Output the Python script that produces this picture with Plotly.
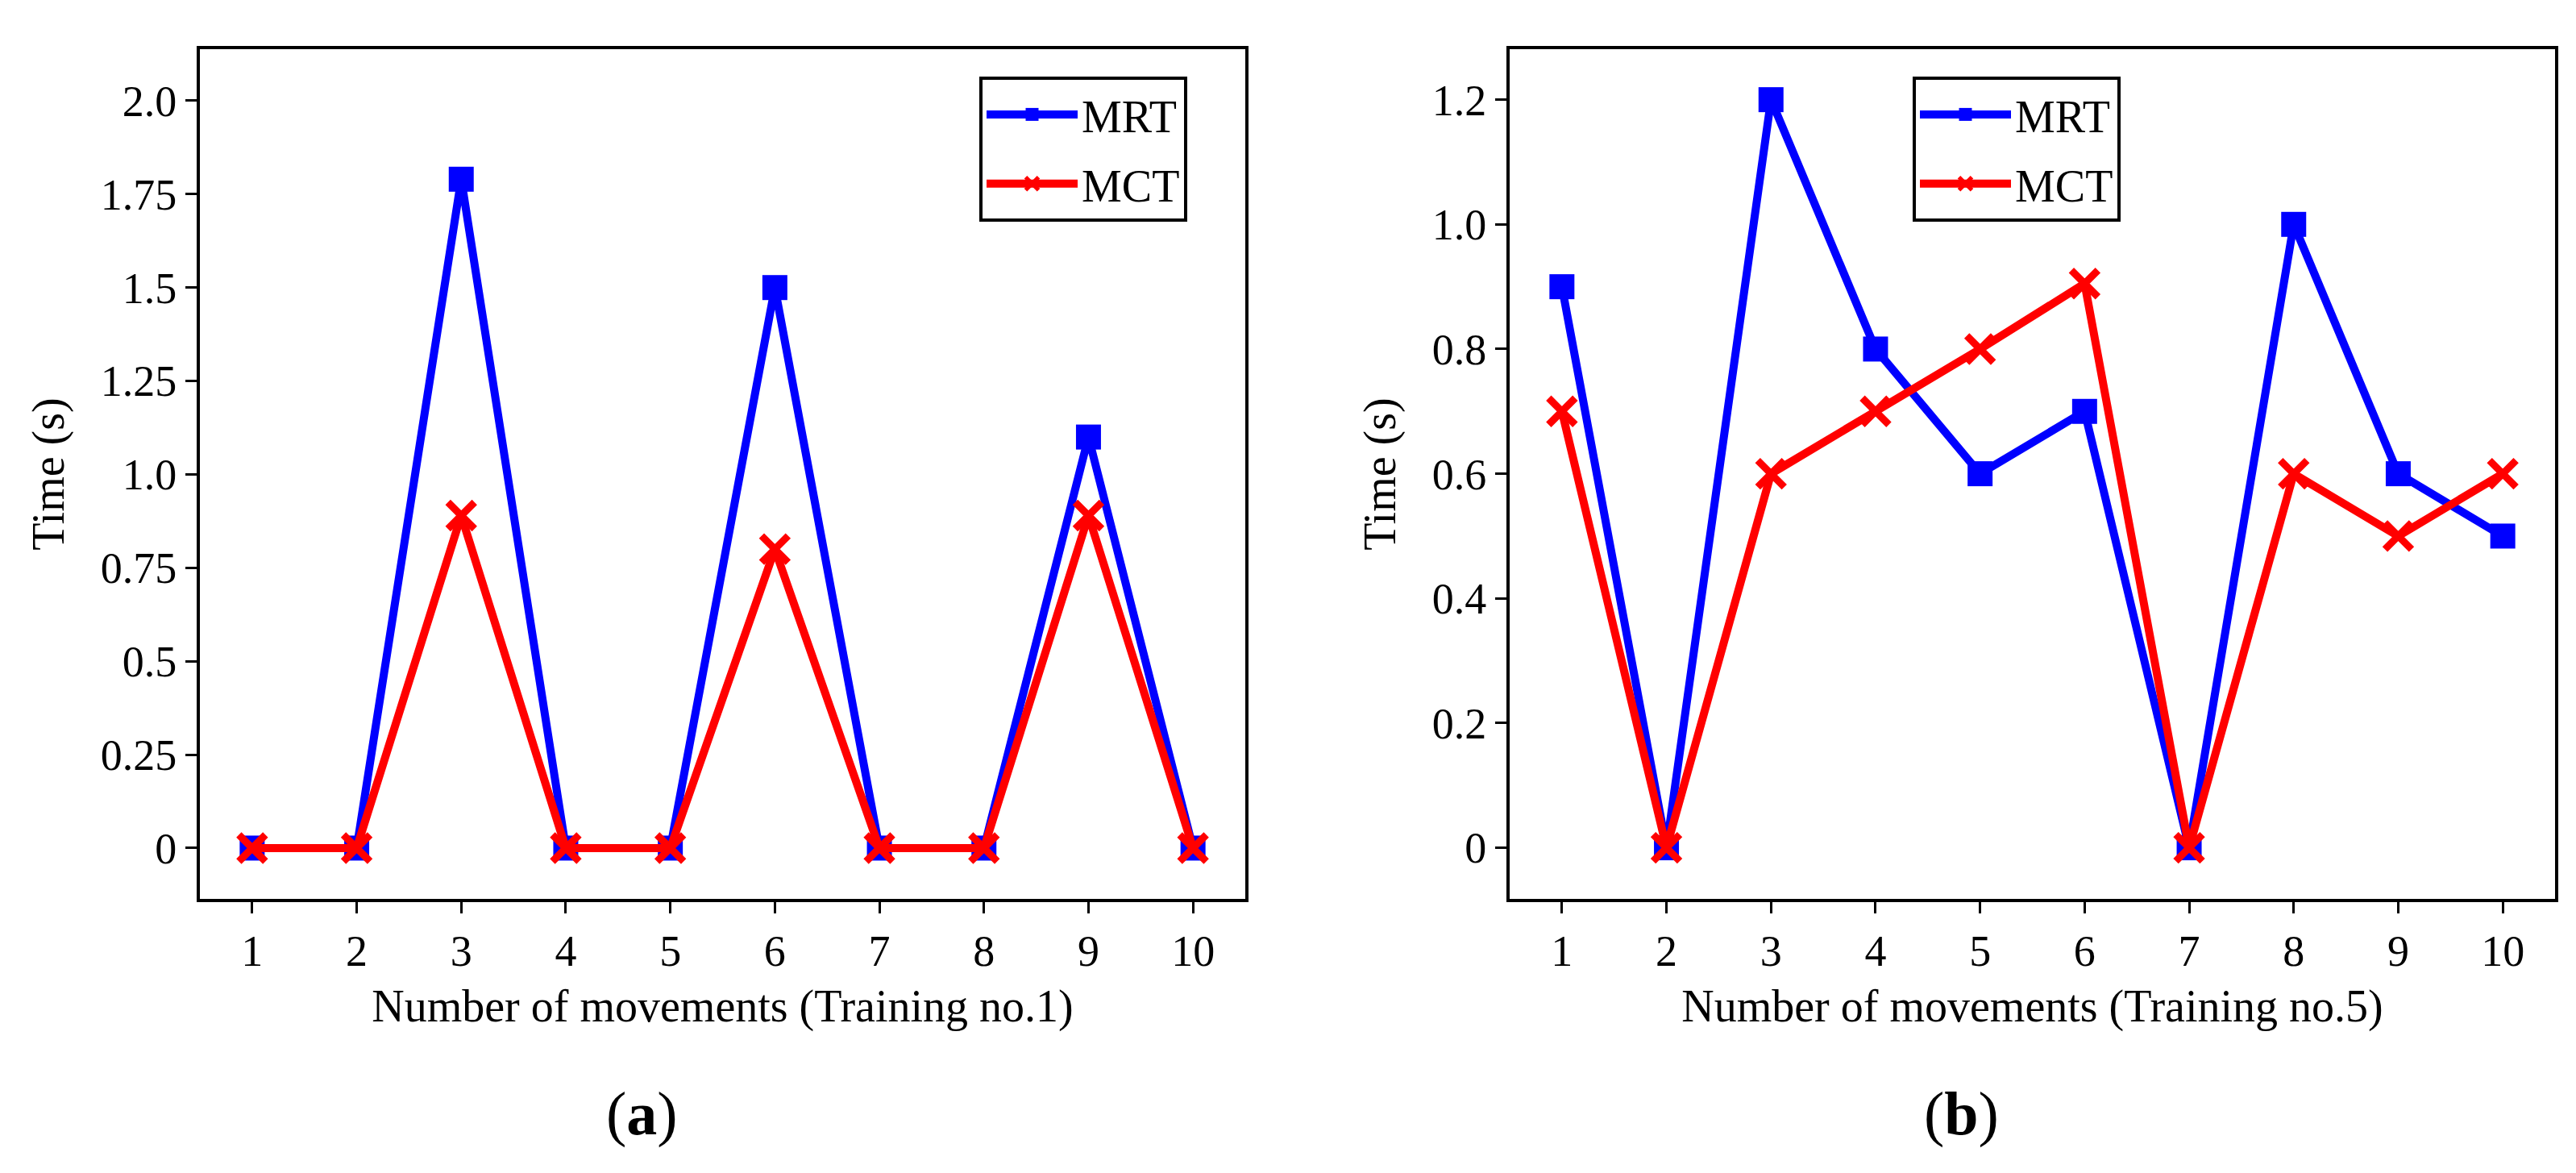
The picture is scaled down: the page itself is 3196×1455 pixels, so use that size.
import plotly.graph_objects as go

movements = [1, 2, 3, 4, 5, 6, 7, 8, 9, 10]
mrt_a = [0, 0, 1.79, 0, 0, 1.5, 0, 0, 1.1, 0]
mct_a = [0, 0, 0.89, 0, 0, 0.8, 0, 0, 0.89, 0]
mrt_b = [0.9, 0, 1.2, 0.8, 0.6, 0.7, 0, 1.0, 0.6, 0.5]
mct_b = [0.7, 0, 0.6, 0.7, 0.8, 0.905, 0, 0.6, 0.5, 0.6]

yticks_a = [0, 0.25, 0.5, 0.75, 1.0, 1.25, 1.5, 1.75, 2.0]
yticklabels_a = ["0", "0.25", "0.5", "0.75", "1.0", "1.25", "1.5", "1.75", "2.0"]
yticks_b = [0, 0.2, 0.4, 0.6, 0.8, 1.0, 1.2]
yticklabels_b = ["0", "0.2", "0.4", "0.6", "0.8", "1.0", "1.2"]

FONT = "Liberation Serif"
BLUE = "#0000ff"
RED = "#ff0000"

fig = go.Figure()


def add_pair(mrt, mct, xa, ya, leg):
    fig.add_trace(go.Scatter(
        x=movements, y=mrt, name="MRT", mode="lines+markers",
        xaxis=xa, yaxis=ya, legend=leg, legendgroup=leg + "mrt",
        line=dict(color=BLUE, width=10),
        marker=dict(symbol="square", size=31, color=BLUE),
    ))
    fig.add_trace(go.Scatter(
        x=movements, y=mct, name="MCT", mode="lines+markers",
        xaxis=xa, yaxis=ya, legend=leg, legendgroup=leg + "mct",
        line=dict(color=RED, width=10),
        marker=dict(symbol="x-thin", size=33, color=RED,
                    line=dict(color=RED, width=9)),
    ))


add_pair(mrt_a, mct_a, "x", "y", "legend")
add_pair(mrt_b, mct_b, "x2", "y2", "legend2")

axis_common = dict(
    showline=True, linecolor="black", linewidth=4, mirror=True,
    ticks="outside", ticklen=14, tickwidth=3, tickcolor="black",
    showgrid=False, zeroline=False,
    tickfont=dict(family=FONT, size=54, color="black"),
)

H = 1455.0
W = 3196.0
ydom = [(H - 1107) / H, (H - 53) / H]
TITLE_FONT = dict(family=FONT, size=56, color="black")
LEG_FONT = dict(family=FONT, size=56, color="black")

fig.update_layout(
    width=3196, height=1455,
    margin=dict(l=0, r=0, t=0, b=0),
    paper_bgcolor="white", plot_bgcolor="white",
    font=dict(family=FONT, size=54, color="black"),
    xaxis=dict(axis_common, domain=[240 / W, 1537 / W], range=[0.5, 10.5],
               tickvals=movements, ticktext=[str(m) for m in movements],
               title=dict(text="Number of movements (Training no.1)",
                          font=TITLE_FONT, standoff=20)),
    yaxis=dict(axis_common, domain=ydom, range=[-0.136, 2.138],
               tickvals=yticks_a, ticktext=yticklabels_a,
               title=dict(text="Time (s)", font=TITLE_FONT, standoff=28)),
    xaxis2=dict(axis_common, domain=[1865 / W, 3162 / W], range=[0.5, 10.5],
                tickvals=movements, ticktext=[str(m) for m in movements],
                anchor="y2",
                title=dict(text="Number of movements (Training no.5)",
                           font=TITLE_FONT, standoff=20)),
    yaxis2=dict(axis_common, domain=ydom, range=[-0.082, 1.281],
                tickvals=yticks_b, ticktext=yticklabels_b, anchor="x2",
                title=dict(text="Time (s)", font=TITLE_FONT, standoff=28)),
    legend=dict(x=1207 / W, y=1 - 87 / H, xanchor="left", yanchor="top",
                bordercolor="black", borderwidth=4, bgcolor="white",
                font=LEG_FONT, itemwidth=113, tracegroupgap=10,
                entrywidth=285, entrywidthmode="pixels"),
    legend2=dict(x=2365 / W, y=1 - 87 / H, xanchor="left", yanchor="top",
                 bordercolor="black", borderwidth=4, bgcolor="white",
                 font=LEG_FONT, itemwidth=113, tracegroupgap=10,
                 entrywidth=285, entrywidthmode="pixels"),
    annotations=[
        dict(text="(<b>a</b>)", x=788 / W, y=1 - 1373 / H, xref="paper",
             yref="paper", showarrow=False, xanchor="center", yanchor="middle",
             font=dict(family=FONT, size=76, color="black")),
        dict(text="(<b>b</b>)", x=2425 / W, y=1 - 1373 / H, xref="paper",
             yref="paper", showarrow=False, xanchor="center", yanchor="middle",
             font=dict(family=FONT, size=76, color="black")),
    ],
)

fig.write_html("out.html")
